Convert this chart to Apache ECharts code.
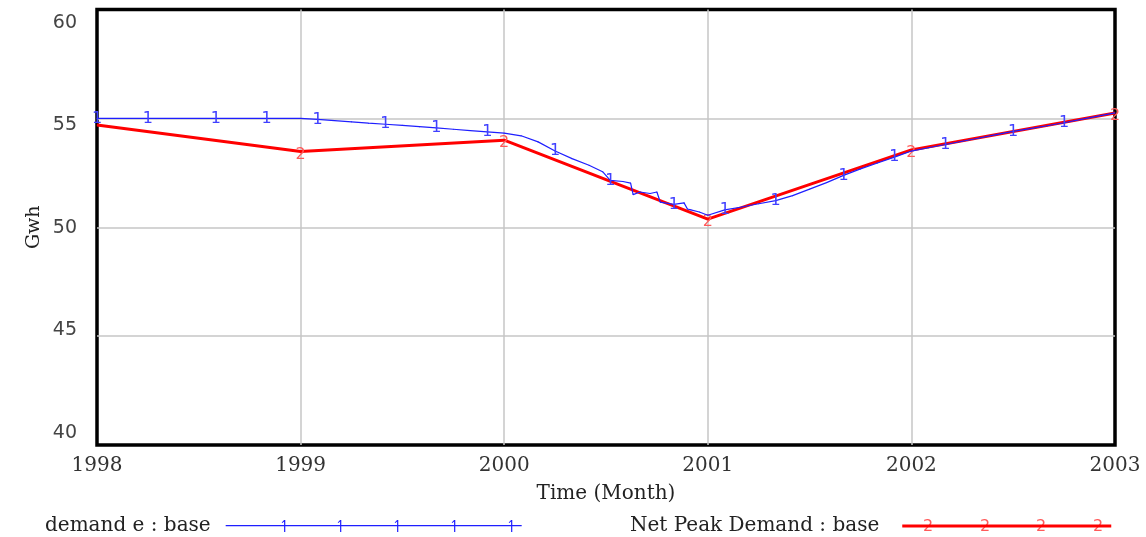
<!DOCTYPE html>
<html>
<head>
<meta charset="utf-8">
<title>demand e vs Net Peak Demand</title>
<script src="https://cdn.jsdelivr.net/npm/echarts@6/dist/echarts.min.js"></script>
<style>
  html, body { margin: 0; padding: 0; background: #fff; }
  #chart { width: 1146px; height: 537px; }
</style>
</head>
<body>
<div id="chart"></div>
<script>
// time is counted in months from Jan 1998, ticks every 12 months
const yearLabels = ['1998', '1999', '2000', '2001', '2002', '2003'];
const yTickLabels = [40, 45, 50, 55, 60];

// Net Peak Demand : base (yearly points)
const redMonths = [0, 12, 24, 36, 48, 60];
const redValues = [54.7, 53.48, 54.0, 50.37, 53.55, 55.25];

// demand e : base
const blueMonths = [
  0, 1, 2, 3, 4, 5, 6, 7, 8, 9, 10, 11,
  12, 13, 14, 15, 16, 17, 18, 19, 20, 21, 22, 23,
  24, 25, 26, 27, 28, 29, 29.8, 30.25, 31, 31.45, 31.6, 32, 32.6, 33, 33.2, 34, 34.6, 34.8, 35, 35.5,
  36, 37, 38, 39, 40, 41, 42, 43, 44, 45, 46, 47,
  48, 49, 50, 51, 52, 53, 54, 55, 56, 57, 58, 59, 60
];
const blueValues = [
  55.0, 55.0, 55.0, 55.0, 55.0, 55.0, 55.0, 55.0, 55.0, 55.0, 55.0, 55.0,
  55.0, 54.95, 54.9, 54.84, 54.78, 54.73, 54.68, 54.62, 54.56, 54.5, 54.44, 54.38,
  54.32, 54.2, 53.92, 53.5, 53.15, 52.85, 52.55, 52.15, 52.1, 52.03, 51.5, 51.62, 51.55, 51.62, 51.15, 51.05, 51.12, 50.84, 50.8, 50.7,
  50.55, 50.8, 50.93, 51.08, 51.22, 51.45, 51.75, 52.05, 52.38, 52.68, 52.95, 53.22,
  53.5, 53.65, 53.8, 53.95, 54.1, 54.25, 54.4, 54.53, 54.66, 54.8, 54.95, 55.1, 55.25
];
// where the "1" markers sit on the blue line
const blueMarkMonths = [0, 3, 7, 10, 13, 17, 20, 23, 27, 30.25, 34, 37, 40, 44, 47, 50, 54, 57];

const serif = 'DejaVu Serif';
const sans = 'DejaVu Sans';

const chart = echarts.init(document.getElementById('chart'));

const blueData = blueMonths.map((m, i) => [m, blueValues[i]]);
const redData = redMonths.map((m, i) => [m, redValues[i]]);

// legend sample icons
const blueIcon = 'path://M0 5.6H296V6.8H0Z' +
  'M58.4 0.5H59.6V12.5H58.4ZM56 3L58.4 0.5L58.4 1.9L56.7 3.6Z' +
  'M114.4 0.5H115.6V12.5H114.4ZM112 3L114.4 0.5L114.4 1.9L112.7 3.6Z' +
  'M171.4 0.5H172.6V12.5H171.4ZM169 3L171.4 0.5L171.4 1.9L169.7 3.6Z' +
  'M228.4 0.5H229.6V12.5H228.4ZM226 3L228.4 0.5L228.4 1.9L226.7 3.6Z' +
  'M285.4 0.5H286.6V12.5H285.4ZM283 3L285.4 0.5L285.4 1.9L283.7 3.6Z';
const redIcon = 'path://M0 0H209V3H0Z';

const markStyle = { fontFamily: sans, fontSize: 16, fill: '#ff5a5a' };

const option = {
  animation: false,
  backgroundColor: '#fff',
  grid: {
    left: 97,
    right: 31,
    top: 9.5,
    bottom: 92,
    show: true,
    borderColor: '#000',
    borderWidth: 3.5,
    backgroundColor: 'transparent'
  },
  legend: [
    {
      data: ['demand e : base'],
      left: 40,
      top: 511,
      align: 'right',
      icon: blueIcon,
      itemWidth: 296,
      itemHeight: 12.5,
      selectedMode: false,
      textStyle: { fontFamily: serif, fontSize: 20, color: '#222', padding: [0, 10, 0, 0] }
    },
    {
      data: ['Net Peak Demand : base'],
      left: 625,
      top: 511,
      align: 'right',
      icon: redIcon,
      itemWidth: 209,
      itemHeight: 3,
      selectedMode: false,
      textStyle: { fontFamily: serif, fontSize: 20, color: '#222', padding: [0, 18, 0, 0] }
    }
  ],
  xAxis: {
    type: 'value',
    min: 0,
    max: 60,
    interval: 12,
    name: 'Time (Month)',
    nameLocation: 'middle',
    nameGap: 39,
    nameTextStyle: { fontFamily: serif, fontSize: 20, color: '#222' },
    axisLine: { show: false },
    axisTick: { show: false },
    axisLabel: {
      margin: 11,
      fontFamily: serif,
      fontSize: 20,
      color: '#333',
      formatter: v => yearLabels[Math.round(v / 12)]
    },
    splitLine: {
      show: true,
      showMinLine: false,
      showMaxLine: false,
      lineStyle: { color: '#c6c6c6', width: 1.5 }
    }
  },
  yAxis: [
    {
      type: 'value',
      min: 40,
      max: 60,
      interval: 5,
      name: 'Gwh',
      nameLocation: 'middle',
      nameGap: 53,
      nameTextStyle: { fontFamily: serif, fontSize: 19, color: '#222' },
      axisLine: { show: false },
      axisTick: { show: false },
      axisLabel: { show: false },
      splitLine: {
        show: true,
        showMinLine: false,
        showMaxLine: false,
        lineStyle: { color: '#c6c6c6', width: 1.5 }
      }
    },
    {
      // label-only axis: the tick labels are spread a little tighter than the grid lines
      type: 'value',
      position: 'left',
      min: 39.415,
      max: 60.66,
      axisLine: { show: false },
      axisTick: { show: false },
      splitLine: { show: false },
      axisLabel: {
        margin: 20,
        fontFamily: sans,
        fontSize: 19,
        color: '#444',
        customValues: yTickLabels,
        formatter: v => String(Math.round(v))
      }
    }
  ],
  series: [
    {
      name: 'Net Peak Demand : base',
      type: 'line',
      data: redData,
      color: '#ff0000',
      lineStyle: { color: '#ff0000', width: 3 },
      symbol: 'circle',
      symbolSize: 1,
      showSymbol: true,
      showAllSymbol: true,
      itemStyle: { color: '#ff0000' },
      label: {
        show: true,
        position: 'inside',
        offset: [0, 3],
        formatter: p => p.dataIndex === 0 ? '' : '2',
        fontFamily: sans,
        fontSize: 16,
        color: '#ff5a5a'
      },
      emphasis: { disabled: true },
      z: 2
    },
    {
      name: 'demand e : base',
      type: 'line',
      data: blueData,
      color: '#1f1fff',
      lineStyle: { color: '#1f1fff', width: 1.2 },
      symbol: 'circle',
      symbolSize: 1,
      showSymbol: true,
      showAllSymbol: true,
      itemStyle: { color: '#1f1fff' },
      label: {
        show: true,
        position: 'inside',
        fontFamily: sans,
        fontSize: 16,
        color: '#4040ff',
        formatter: p => blueMarkMonths.indexOf(p.value[0]) >= 0 ? '1' : ''
      },
      emphasis: { disabled: true },
      z: 3
    }
  ],
  graphic: [
    // the "2" markers on the red legend sample
    { type: 'text', left: 923, top: 519, style: markStyle },
    { type: 'text', left: 980, top: 519, style: markStyle },
    { type: 'text', left: 1036, top: 519, style: markStyle },
    { type: 'text', left: 1093, top: 519, style: markStyle }
  ].map(g => Object.assign(g, { style: Object.assign({ text: '2' }, g.style) }))
};

chart.setOption(option);
</script>
</body>
</html>
